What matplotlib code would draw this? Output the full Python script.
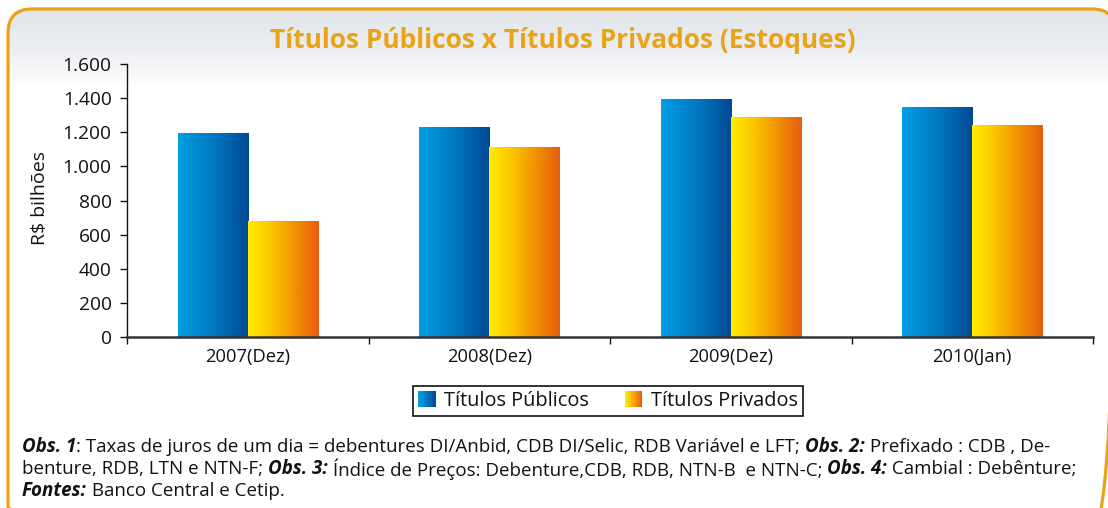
import matplotlib
matplotlib.use("Agg")
import matplotlib.pyplot as plt
import numpy as np
from matplotlib.colors import LinearSegmentedColormap
from matplotlib.patches import FancyBboxPatch, Rectangle
from matplotlib.legend_handler import HandlerBase
from matplotlib.ticker import FuncFormatter, FixedLocator

plt.rcParams['font.family'] = ['Open Sans', 'DejaVu Sans']

# dados (R$ bilhoes)
categorias = ['2007(Dez)', '2008(Dez)', '2009(Dez)', '2010(Jan)']
titulosPublicos = [1195, 1230, 1395, 1350]
titulosPrivados = [680, 1115, 1290, 1245]
series = ['Títulos Públicos', 'Títulos Privados']
yTicks = [0, 200, 400, 600, 800, 1000, 1200, 1400, 1600]

titulo = 'Títulos Públicos x Títulos Privados (Estoques)'
rotuloY = 'R$ bilhões'
linhasObs = [
    [('Obs. 1', True), (': Taxas de juros de um dia = debentures DI/Anbid, CDB DI/Selic, RDB Variável e LFT; ', False),
     ('Obs. 2:', True), (' Prefixado : CDB , De-', False)],
    [('benture, RDB, LTN e NTN-F; ', False), ('Obs. 3:', True),
     (' Índice de Preços: Debenture,CDB, RDB, NTN-B  e NTN-C; ', False), ('Obs. 4:', True),
     (' Cambial : Debênture;', False)],
    [('Fontes:', True), (' Banco Central e Cetip.', False)],
]

W, H = 1108, 508
LARANJA = '#e8a317'
TAM_OBS = 13.5
cmapAzul = LinearSegmentedColormap.from_list('azul', ['#009fe3', '#0078c1', '#004a93'])
cmapLaranja = LinearSegmentedColormap.from_list('laranja', ['#ffec00', '#fcc200', '#f29100', '#e85e10'])
cmapFundo = LinearSegmentedColormap.from_list('fundo', ['#e1e5e9', '#eceef1', '#ffffff'])

fig = plt.figure(figsize=(W / 100, H / 100), dpi=100)
fig.patch.set_facecolor('white')

# fundo com borda arredondada
axFundo = fig.add_axes([0, 0, 1, 1])
axFundo.axis('off')
moldura = FancyBboxPatch((8, 9), 1108, 522, boxstyle='round,pad=0,rounding_size=24',
                         facecolor='none', edgecolor=LARANJA, linewidth=2.3, zorder=3)
axFundo.add_patch(moldura)
grad = np.concatenate([np.linspace(0, 1, 80), np.ones(442)])[:, None]
img = axFundo.imshow(grad, cmap=cmapFundo, extent=(8, 1116, 531, 9), aspect='auto',
                     interpolation='bilinear', zorder=1)
img.set_clip_path(moldura)
axFundo.set_xlim(0, W)
axFundo.set_ylim(H, 0)

# grafico
ax = fig.add_axes([127 / W, 171 / H, (1093 - 127) / W, 273 / H])
ax.set_facecolor('none')
x = np.arange(len(categorias))
largura = 0.29


def barrasGradiente(posicoes, valores, cmap):
    barras = ax.bar(posicoes, valores, largura, facecolor='none', edgecolor='none')
    g = np.linspace(0, 1, 64)[None, :]
    for b in barras:
        x0, x1 = b.get_x(), b.get_x() + b.get_width()
        im = ax.imshow(g, cmap=cmap, extent=(x0, x1, 0, b.get_height()), aspect='auto',
                       interpolation='bilinear', zorder=2)
        im.set_clip_path(b)


barrasGradiente(x - largura / 2, titulosPublicos, cmapAzul)
barrasGradiente(x + largura / 2, titulosPrivados, cmapLaranja)

ax.set_xlim(-0.5, len(categorias) - 0.5)
ax.set_ylim(0, 1600)
ax.set_aspect('auto')
for s in ['top', 'right']:
    ax.spines[s].set_visible(False)
ax.spines['left'].set_color('#111111')
ax.spines['left'].set_linewidth(1.0)
ax.spines['bottom'].set_color('#333333')
ax.spines['bottom'].set_linewidth(1.8)
ax.spines['bottom'].set_zorder(3)

ax.yaxis.set_major_locator(FixedLocator(yTicks))
ax.yaxis.set_major_formatter(FuncFormatter(lambda v, p: '{:,.0f}'.format(v).replace(',', '.')))
ax.tick_params(axis='y', direction='out', length=5, width=1, pad=6, labelsize=13.8, colors='#111111')

ax.xaxis.set_major_locator(FixedLocator(np.arange(len(categorias) + 1) - 0.5))
ax.xaxis.set_major_formatter(FuncFormatter(lambda v, p: ''))
ax.xaxis.set_minor_locator(FixedLocator(x))
ax.xaxis.set_minor_formatter(FuncFormatter(lambda v, p: categorias[int(round(v))]))
ax.tick_params(axis='x', which='major', direction='out', length=5, width=1, color='#111111')
ax.tick_params(axis='x', which='minor', length=0, pad=8, labelsize=13.2, labelcolor='#111111')

fig.text(40 / W, 1 - 198 / H, rotuloY, rotation=90, ha='center', va='center', fontsize=14, color='#111111')
fig.text(563 / W, 1 - 40 / H, titulo, ha='center', va='center', fontsize=19, fontweight='bold', color=LARANJA)


# legenda com gradiente
class HandlerGradiente(HandlerBase):
    def __init__(self, cmap):
        super().__init__()
        self.cmap = cmap

    def create_artists(self, legend, orig_handle, xdescent, ydescent, width, height, fontsize, trans):
        n = 24
        arts = []
        for i in range(n):
            r = Rectangle((-xdescent + width * i / n, -ydescent), width / n + 0.3, height,
                          facecolor=self.cmap(i / (n - 1)), edgecolor='none', transform=trans)
            arts.append(r)
        return arts


h1 = Rectangle((0, 0), 1, 1)
h2 = Rectangle((0, 0), 1, 1)
leg = fig.legend([h1, h2], series, loc='center', bbox_to_anchor=(608 / W, 1 - 401 / H), ncol=2,
                 handler_map={h1: HandlerGradiente(cmapAzul), h2: HandlerGradiente(cmapLaranja)},
                 fontsize=14.3, frameon=True, fancybox=False, framealpha=1, edgecolor='#111111',
                 handlelength=0.85, handleheight=0.9, handletextpad=0.45, columnspacing=1.8,
                 borderpad=0.25, borderaxespad=0, labelcolor='#111111')
leg.get_frame().set_linewidth(1.2)

# observacoes (texto com trechos em negrito italico)
renderer = fig.canvas.get_renderer()


def estiloObs(bold):
    return dict(fontsize=TAM_OBS, fontweight='bold' if bold else 'normal',
                fontstyle='italic' if bold else 'normal', color='#111111')


def larguraTexto(s, bold):
    t1 = fig.text(0, 0, '|' + s + '|', **estiloObs(bold))
    t2 = fig.text(0, 0, '||', **estiloObs(bold))
    w = t1.get_window_extent(renderer).width - t2.get_window_extent(renderer).width
    t1.remove()
    t2.remove()
    return w


yLinhas = [447, 469, 491]
for linha, yl in zip(linhasObs, yLinhas):
    xp = 22
    for s, bold in linha:
        fig.text(xp / W, 1 - yl / H, s, ha='left', va='center', **estiloObs(bold))
        xp += larguraTexto(s, bold)

fig.savefig('out.png', dpi=100)
